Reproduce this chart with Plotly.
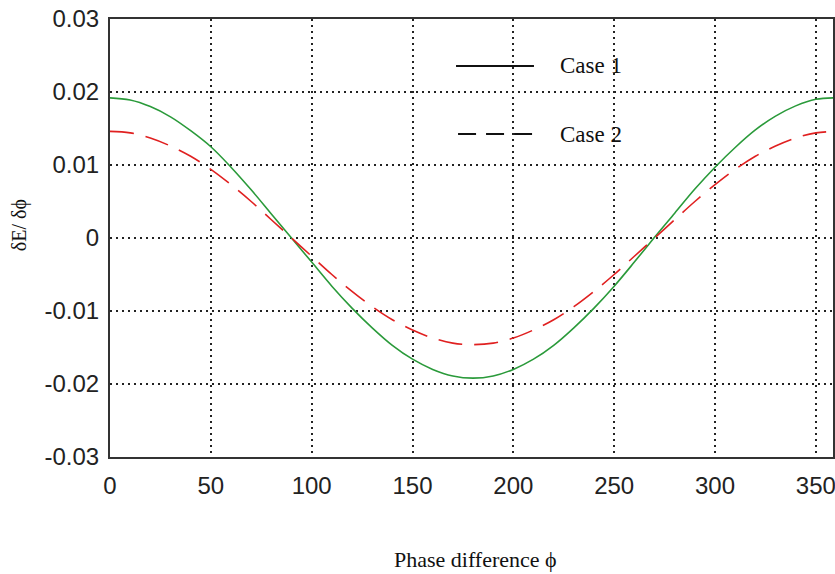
import plotly.graph_objects as go

phase = [0, 10, 20, 30, 40, 50, 60, 70, 80, 90, 100, 110, 120, 130, 140, 150, 160, 170, 180,
         190, 200, 210, 220, 230, 240, 250, 260, 270, 280, 290, 300, 310, 320, 330, 340, 350, 360]
case1 = [0.0192, 0.0189, 0.0180, 0.0166, 0.0147, 0.0125, 0.0097, 0.0066, 0.0033, 0.0000,
         -0.0033, -0.0066, -0.0096, -0.0123, -0.0147, -0.0166, -0.0180, -0.0189, -0.0192,
         -0.0189, -0.0180, -0.0166, -0.0147, -0.0123, -0.0096, -0.0066, -0.0033, 0.0001,
         0.0034, 0.0067, 0.0097, 0.0124, 0.0148, 0.0167, 0.0181, 0.0190, 0.0192]
case2 = [0.0146, 0.0144, 0.0137, 0.0126, 0.0112, 0.0094, 0.0073, 0.0050, 0.0025, 0.0000,
         -0.0025, -0.0050, -0.0073, -0.0094, -0.0112, -0.0126, -0.0137, -0.0144, -0.0146,
         -0.0144, -0.0137, -0.0126, -0.0112, -0.0094, -0.0073, -0.0050, -0.0025, 0.0000,
         0.0025, 0.0050, 0.0073, 0.0094, 0.0112, 0.0126, 0.0137, 0.0144, 0.0146]
x_ticks = [0, 50, 100, 150, 200, 250, 300, 350]
y_ticks = [-0.03, -0.02, -0.01, 0, 0.01, 0.02, 0.03]
y_tick_labels = ["-0.03", "-0.02", "-0.01", "0", "0.01", "0.02", "0.03"]
legend_names = ["Case 1", "Case 2"]

fig = go.Figure()
fig.add_trace(go.Scatter(x=phase, y=case1, mode="lines", name=legend_names[0],
                         line=dict(color="#2a9a3a", width=1.6, shape="spline"), showlegend=False))
fig.add_trace(go.Scatter(x=phase, y=case2, mode="lines", name=legend_names[1],
                         line=dict(color="#e02020", width=1.6, dash="24px,12px", shape="spline"),
                         showlegend=False))

tick_font = dict(family="Liberation Sans, Arial, sans-serif", size=24, color="#222")
serif = "Liberation Serif, Times New Roman, serif"

fig.update_xaxes(range=[0, 358.5], tickvals=x_ticks, ticktext=[str(v) for v in x_ticks],
                 showgrid=True, gridcolor="#222", gridwidth=2, griddash="2px,4px",
                 showline=True, linecolor="#333", linewidth=2, mirror=True, zeroline=False,
                 ticks="outside", ticklen=6, tickcolor="rgba(0,0,0,0)", tickfont=tick_font,
                 ticklabeloverflow="allow", automargin=False)
fig.update_yaxes(range=[-0.0300001, 0.0300001], tickvals=y_ticks, ticktext=y_tick_labels,
                 showgrid=True, gridcolor="#222", gridwidth=2, griddash="2px,4px",
                 showline=True, linecolor="#333", linewidth=2, mirror=True, zeroline=False,
                 ticks="outside", ticklen=4, tickcolor="rgba(0,0,0,0)", tickfont=tick_font,
                 ticklabeloverflow="allow", automargin=False)

# legend drawn manually (long sample lines like the reference)
shapes = [
    dict(type="line", xref="paper", yref="paper", x0=0.4786, x1=0.5864, y0=0.8927, y1=0.8927,
         line=dict(color="#111", width=2)),
    dict(type="line", xref="paper", yref="paper", x0=0.4814, x1=0.5864, y0=0.7374, y1=0.7374,
         line=dict(color="#111", width=2, dash="18px,10px")),
]
annotations = [
    dict(text=legend_names[0], xref="paper", yref="paper", x=0.620, y=0.8927, xanchor="left",
         yanchor="middle", showarrow=False, font=dict(family=serif, size=23, color="#111")),
    dict(text=legend_names[1], xref="paper", yref="paper", x=0.620, y=0.7374, xanchor="left",
         yanchor="middle", showarrow=False, font=dict(family=serif, size=23, color="#111")),
    dict(text="Phase difference ϕ", xref="paper", yref="paper", x=0.505, y=-0.233,
         xanchor="center", yanchor="middle", showarrow=False,
         font=dict(family=serif, size=22, color="#111")),
    dict(text="δE/ δϕ", xref="paper", yref="paper", x=-0.124, y=0.53, textangle=-90,
         xanchor="center", yanchor="middle", showarrow=False,
         font=dict(family=serif, size=20, color="#111")),
]

fig.update_layout(width=835, height=574, margin=dict(l=110, r=2, t=19, b=117, autoexpand=False),
                  paper_bgcolor="white", plot_bgcolor="white",
                  shapes=shapes, annotations=annotations, showlegend=False)

fig.write_html("out.html", config={"displayModeBar": False},
               post_script="document.body.style.margin='0';document.documentElement.style.overflow='hidden';")
